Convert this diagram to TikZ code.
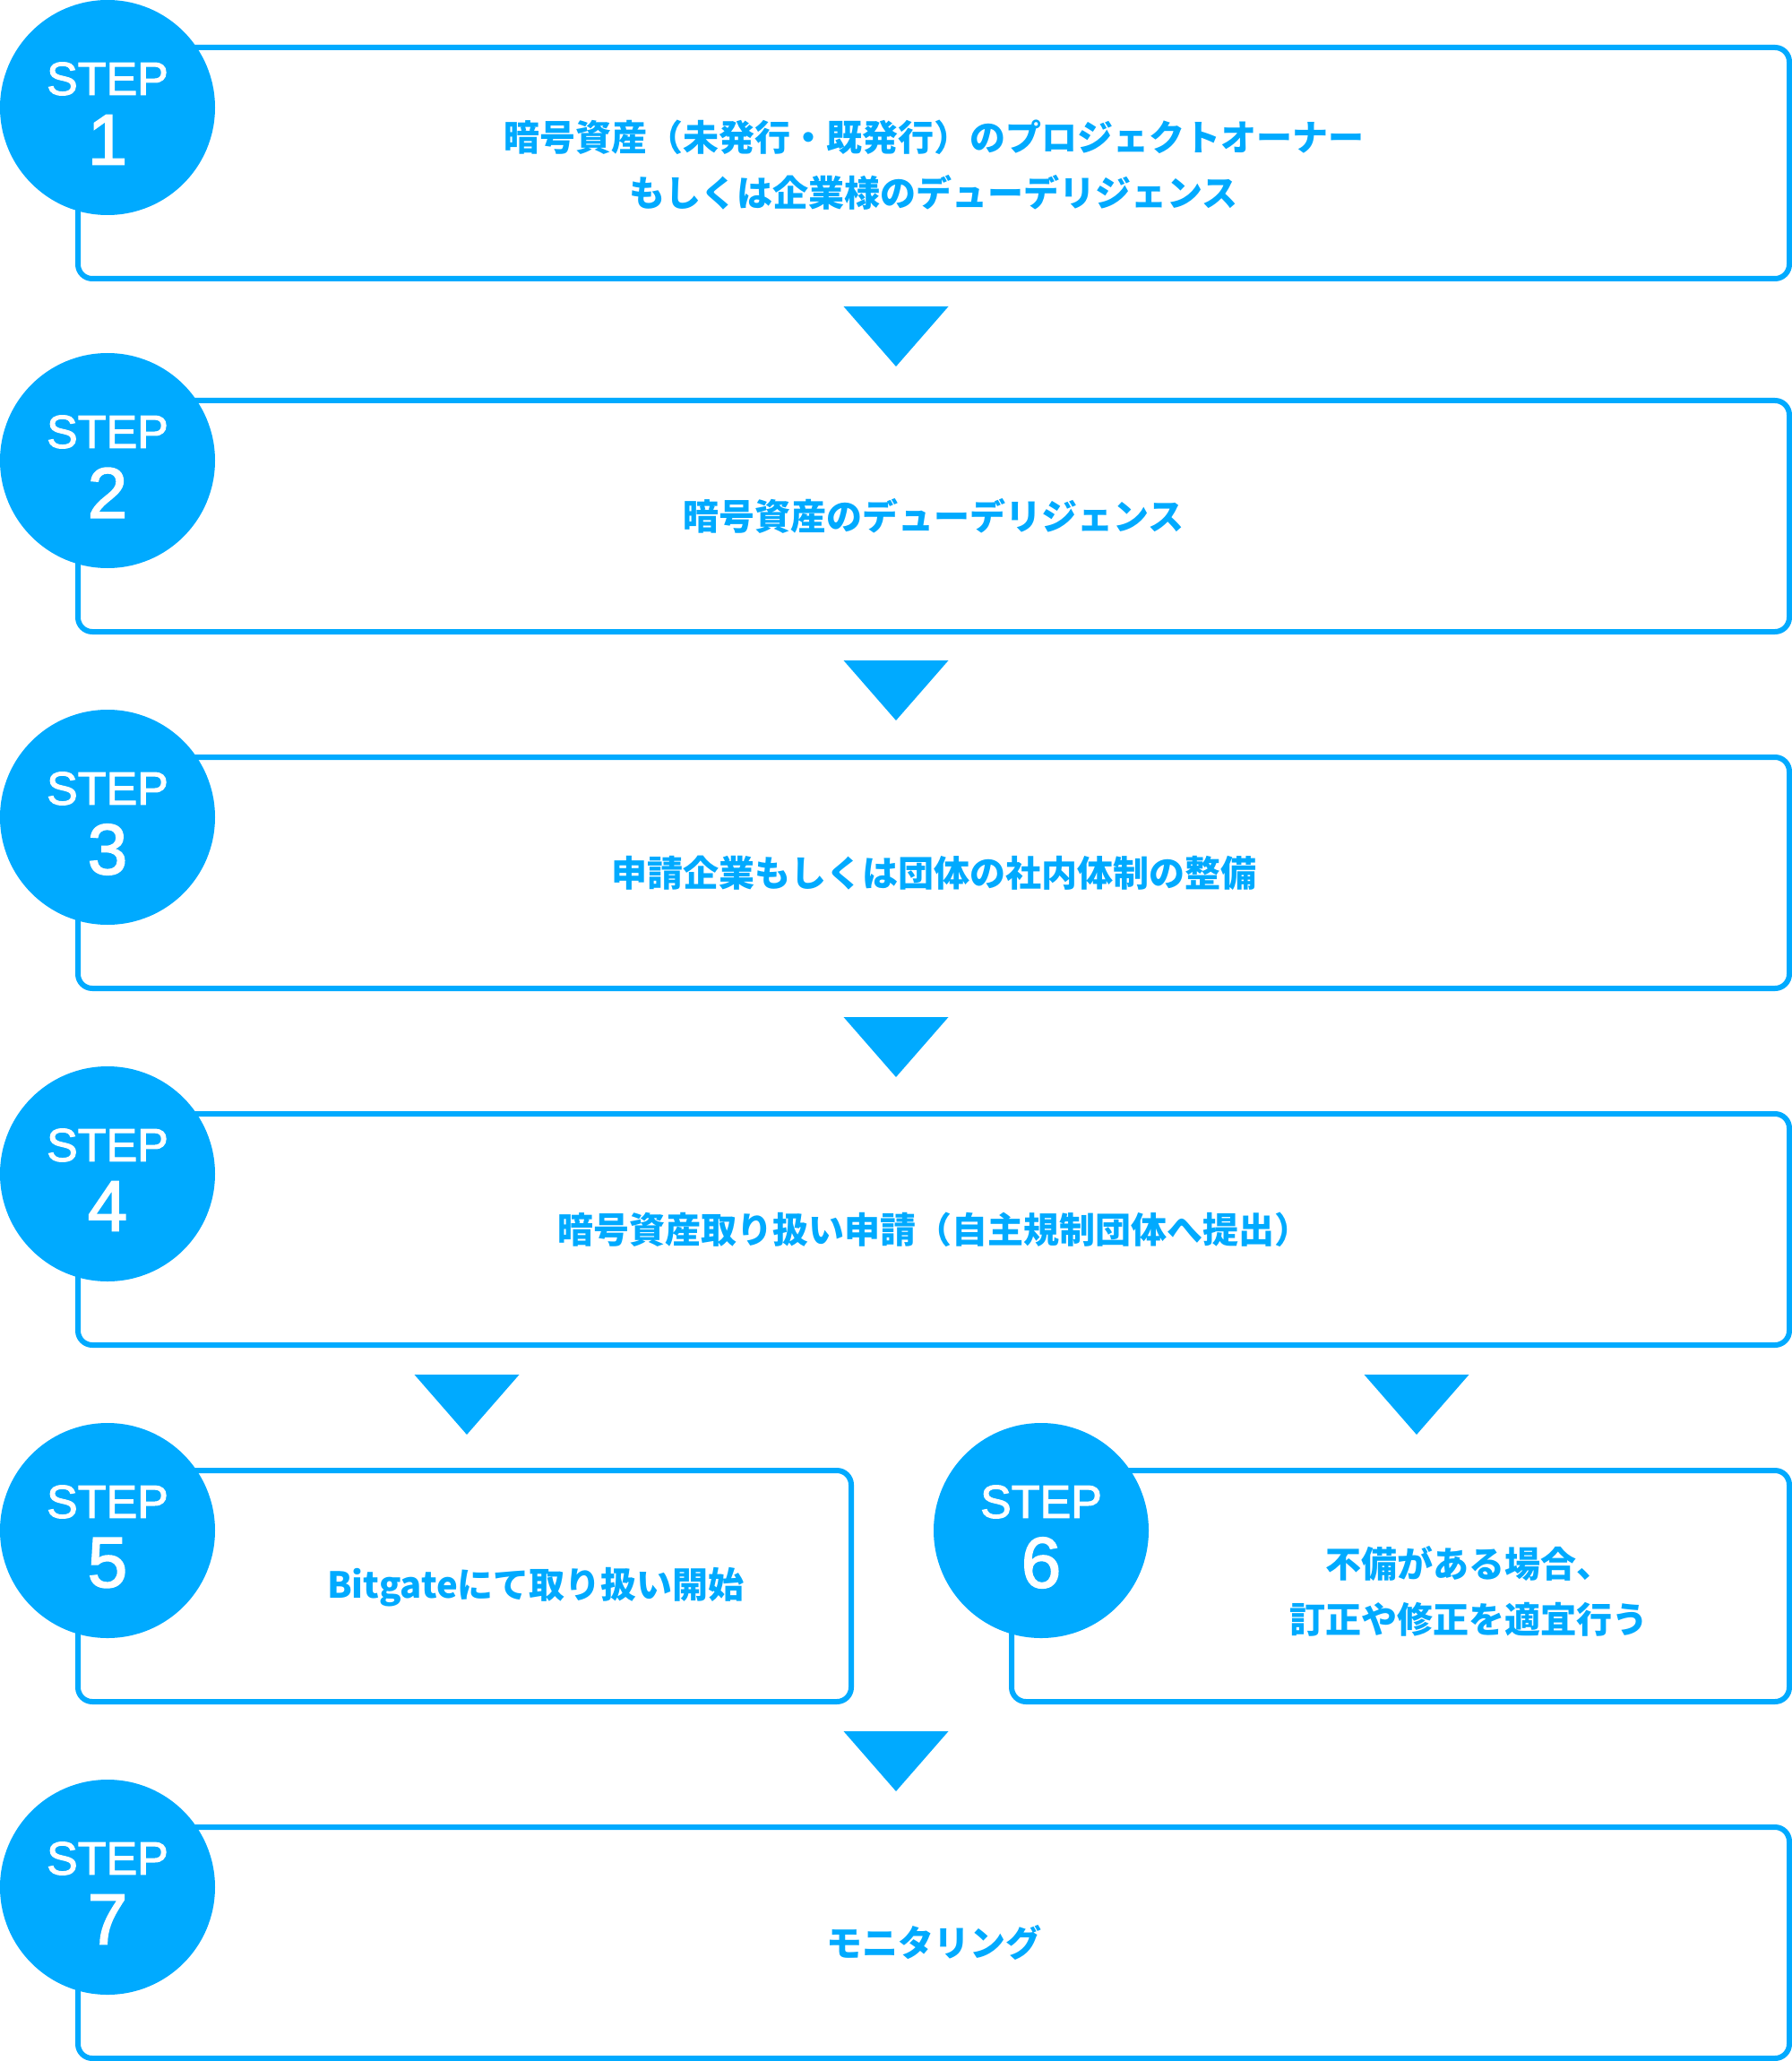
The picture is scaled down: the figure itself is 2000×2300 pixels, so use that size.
\documentclass[tikz,border=0pt]{standalone}
\usepackage{fontspec}
\newfontfamily\jpfont{Noto Sans CJK JP}
\newfontfamily\stepfont{Liberation Sans}[FakeBold=2]
\usetikzlibrary{calc}
\definecolor{sky}{RGB}{0,170,255}
\begin{document}
\begin{tikzpicture}[x=0.5pt,y=-0.5pt,
  stepbox/.style={draw=sky, line width=3pt, rounded corners=8pt, inner sep=0pt, minimum height=129pt},
  widebox/.style={stepbox, minimum width=955pt},
  badge/.style={circle, fill=sky, inner sep=0pt, minimum size=120pt},
  steplabel/.style={text=white, font=\stepfont\fontsize{26}{26}\selectfont, inner sep=0pt},
  stepnum/.style={text=white, font=\stepfont\fontsize{40}{40}\selectfont, inner sep=0pt},
  desc/.style={text=sky, font=\jpfont\bfseries\fontsize{20}{31}\selectfont, align=center, inner sep=0pt},
  tri/.style={fill=sky}]
\useasboundingbox (0,0) rectangle (2000,2300);
% boxes
\node[widebox] (b1) at (1042,182) {};
\node[widebox] (b2) at (1042,576) {};
\node[widebox] (b3) at (1042,974) {};
\node[widebox] (b4) at (1042,1372) {};
\node[stepbox, minimum width=431.5pt] (b5) at (518.5,1770) {};
\node[stepbox, minimum width=434pt] (b6) at (1563,1770) {};
\node[widebox] (b7) at (1042,2168) {};
% badges
\foreach \n/\cx/\cy in {1/120/120, 2/120/514, 3/120/912, 4/120/1310, 5/120/1708, 6/1162/1708, 7/120/2106} {
  \node[badge] (c\n) at (\cx,\cy) {};
  \node[steplabel] (s\n) at (\cx,\cy-32) {STEP};
  \node[stepnum] (n\n) at (\cx,\cy+36) {\n};
}
% descriptions
\node[desc] (t1) at (1042,184) {暗号資産（未発行・既発行）のプロジェクトオーナー\\もしくは企業様のデューデリジェンス};
\node[desc] (t2) at (1042,576) {暗号資産のデューデリジェンス};
\node[desc] (t3) at (1042,974) {申請企業もしくは団体の社内体制の整備};
\node[desc] (t4) at (1042,1372) {暗号資産取り扱い申請（自主規制団体へ提出）};
\node[desc] (t5) at (598,1771) {Bitgateにて取り扱い開始};
\node[desc] (t6) at (1639,1776) {不備がある場合、\\訂正や修正を適宜行う};
\node[desc] (t7) at (1042,2168) {モニタリング};
% down triangles
\foreach \ax/\ay in {1000/342, 1000/737, 1000/1135, 521/1534, 1581/1534, 1000/1932} {
  \fill[tri] (\ax-58.5,\ay) -- (\ax+58.5,\ay) -- (\ax,\ay+67) -- cycle;
}
\end{tikzpicture}
\end{document}
